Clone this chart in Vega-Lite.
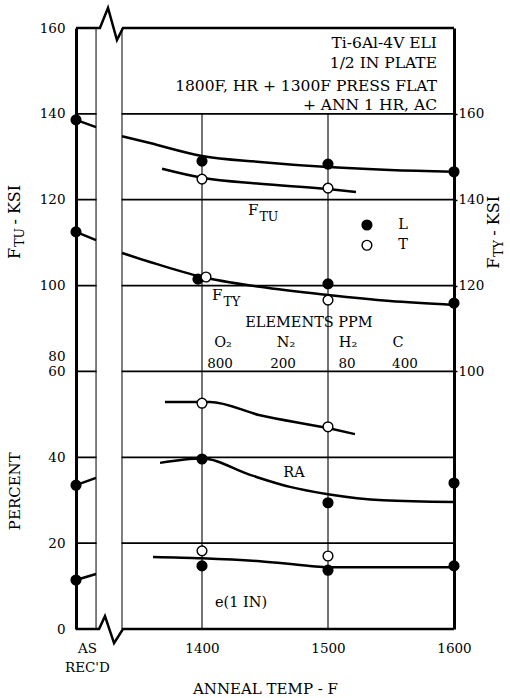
{
  "$schema": "https://vega.github.io/schema/vega-lite/v6.json",
  "width": 378,
  "height": 601,
  "autosize": {"type": "none"},
  "padding": {"left": 76, "top": 28, "right": 56, "bottom": 69},
  "background": "white",
  "config": {"view": {"stroke": null}, "font": "DejaVu Serif", "text": {"font": "DejaVu Serif", "color": "black"}},
  "datasets": {
    "grid": [{"level": 20}, {"level": 40}, {"level": 60}, {"level": 80}, {"level": 100}, {"level": 120}],
    "vlines": [{"temp": 1400, "lo": 0, "hi": 120}, {"temp": 1500, "lo": 0, "hi": 120}],
    "strip": [{"t0": 1316.3, "t1": 1336.2, "lo": 0, "hi": 140}],
    "edges": [{"temp": 1315.9}, {"temp": 1336.5}],
    "border": [
      {"seg": "top", "temp": 1300, "level": 140}, {"seg": "top", "temp": 1319.0, "level": 140}, {"seg": "top", "temp": 1325.4, "level": 144.7}, {"seg": "top", "temp": 1332.5, "level": 137.2}, {"seg": "top", "temp": 1337.3, "level": 140}, {"seg": "top", "temp": 1600, "level": 140},
      {"seg": "bottom", "temp": 1300, "level": 0}, {"seg": "bottom", "temp": 1318.3, "level": 0}, {"seg": "bottom", "temp": 1323.0, "level": 3.0}, {"seg": "bottom", "temp": 1330.2, "level": -3.3}, {"seg": "bottom", "temp": 1337.3, "level": 0}, {"seg": "bottom", "temp": 1600, "level": 0}
    ],
    "pts": [
      {"prop": "FTU", "orient": "L", "temp": 1300, "value": 138.6},
      {"prop": "FTU", "orient": "L", "temp": 1400, "value": 129.0},
      {"prop": "FTU", "orient": "L", "temp": 1500, "value": 128.3},
      {"prop": "FTU", "orient": "L", "temp": 1600, "value": 126.5},
      {"prop": "FTU", "orient": "T", "temp": 1400, "value": 124.8},
      {"prop": "FTU", "orient": "T", "temp": 1500, "value": 122.7},
      {"prop": "FTY", "orient": "L", "temp": 1300, "value": 132.5},
      {"prop": "FTY", "orient": "L", "temp": 1396.8, "value": 121.5},
      {"prop": "FTY", "orient": "L", "temp": 1500, "value": 120.4},
      {"prop": "FTY", "orient": "L", "temp": 1600, "value": 115.9},
      {"prop": "FTY", "orient": "T", "temp": 1403.2, "value": 122.0},
      {"prop": "FTY", "orient": "T", "temp": 1500, "value": 116.6},
      {"prop": "RA", "orient": "L", "temp": 1300, "value": 33.5},
      {"prop": "RA", "orient": "L", "temp": 1400, "value": 39.6},
      {"prop": "RA", "orient": "L", "temp": 1500, "value": 29.4},
      {"prop": "RA", "orient": "L", "temp": 1600, "value": 34.0},
      {"prop": "RA", "orient": "T", "temp": 1400, "value": 52.6},
      {"prop": "RA", "orient": "T", "temp": 1500, "value": 47.1},
      {"prop": "e", "orient": "L", "temp": 1300, "value": 11.4},
      {"prop": "e", "orient": "L", "temp": 1400, "value": 14.7},
      {"prop": "e", "orient": "L", "temp": 1500, "value": 13.7},
      {"prop": "e", "orient": "L", "temp": 1600, "value": 14.7},
      {"prop": "e", "orient": "T", "temp": 1400, "value": 18.2},
      {"prop": "e", "orient": "T", "temp": 1500, "value": 17.0}
    ],
    "curves": [
      {"prop": "FTU", "seg": "FTU_L0", "temp": 1300, "value": 138.6},
      {"prop": "FTU", "seg": "FTU_L0", "temp": 1315.9, "value": 136.9},
      {"prop": "FTU", "seg": "FTU_L", "temp": 1336.5, "value": 134.8},
      {"prop": "FTU", "seg": "FTU_L", "temp": 1358.7, "value": 133.2},
      {"prop": "FTU", "seg": "FTU_L", "temp": 1400, "value": 130.2},
      {"prop": "FTU", "seg": "FTU_L", "temp": 1446, "value": 128.8},
      {"prop": "FTU", "seg": "FTU_L", "temp": 1500, "value": 127.6},
      {"prop": "FTU", "seg": "FTU_L", "temp": 1549.2, "value": 126.9},
      {"prop": "FTU", "seg": "FTU_L", "temp": 1600, "value": 126.5},
      {"prop": "FTU", "seg": "FTU_T", "temp": 1368.3, "value": 127.2},
      {"prop": "FTU", "seg": "FTU_T", "temp": 1400, "value": 125.1},
      {"prop": "FTU", "seg": "FTU_T", "temp": 1446, "value": 123.7},
      {"prop": "FTU", "seg": "FTU_T", "temp": 1500, "value": 122.5},
      {"prop": "FTU", "seg": "FTU_T", "temp": 1522.2, "value": 121.8},
      {"prop": "FTY", "seg": "FTY_L0", "temp": 1300, "value": 132.5},
      {"prop": "FTY", "seg": "FTY_L0", "temp": 1315.9, "value": 130.6},
      {"prop": "FTY", "seg": "FTY_L", "temp": 1336.5, "value": 127.6},
      {"prop": "FTY", "seg": "FTY_L", "temp": 1358.7, "value": 125.5},
      {"prop": "FTY", "seg": "FTY_L", "temp": 1400, "value": 122.0},
      {"prop": "FTY", "seg": "FTY_L", "temp": 1446, "value": 119.7},
      {"prop": "FTY", "seg": "FTY_L", "temp": 1500, "value": 117.8},
      {"prop": "FTY", "seg": "FTY_L", "temp": 1549.2, "value": 116.4},
      {"prop": "FTY", "seg": "FTY_L", "temp": 1600, "value": 115.5},
      {"prop": "RA", "seg": "RA_L0", "temp": 1300, "value": 33.5},
      {"prop": "RA", "seg": "RA_L0", "temp": 1315.9, "value": 35.2},
      {"prop": "RA", "seg": "RA_L", "temp": 1366.7, "value": 38.7},
      {"prop": "RA", "seg": "RA_L", "temp": 1400, "value": 39.7},
      {"prop": "RA", "seg": "RA_L", "temp": 1438.1, "value": 35.9},
      {"prop": "RA", "seg": "RA_L", "temp": 1469.8, "value": 33.1},
      {"prop": "RA", "seg": "RA_L", "temp": 1500, "value": 31.4},
      {"prop": "RA", "seg": "RA_L", "temp": 1543.7, "value": 30.0},
      {"prop": "RA", "seg": "RA_L", "temp": 1600, "value": 29.6},
      {"prop": "RA", "seg": "RA_T", "temp": 1370.6, "value": 52.9},
      {"prop": "RA", "seg": "RA_T", "temp": 1406.3, "value": 52.9},
      {"prop": "RA", "seg": "RA_T", "temp": 1446, "value": 49.8},
      {"prop": "RA", "seg": "RA_T", "temp": 1500, "value": 46.8},
      {"prop": "RA", "seg": "RA_T", "temp": 1521.4, "value": 45.4},
      {"prop": "e", "seg": "e_L0", "temp": 1300, "value": 11.4},
      {"prop": "e", "seg": "e_L0", "temp": 1315.9, "value": 12.8},
      {"prop": "e", "seg": "e_L", "temp": 1361.1, "value": 16.8},
      {"prop": "e", "seg": "e_L", "temp": 1400, "value": 16.5},
      {"prop": "e", "seg": "e_L", "temp": 1446, "value": 15.8},
      {"prop": "e", "seg": "e_L", "temp": 1485.7, "value": 14.7},
      {"prop": "e", "seg": "e_L", "temp": 1500, "value": 14.4},
      {"prop": "e", "seg": "e_L", "temp": 1600, "value": 14.4}
    ],
    "legsym": [{"orient": "L", "temp": 1530.9, "level": 94.1}, {"orient": "T", "temp": 1530.9, "level": 89.4}],
    "ann": [
      {"grp": "block", "text": "Ti-6Al-4V ELI", "temp": 1586.5, "level": 135.3},
      {"grp": "block", "text": "1/2 IN PLATE", "temp": 1586.5, "level": 130.7},
      {"grp": "block", "text": "1800F, HR + 1300F PRESS FLAT", "temp": 1586.5, "level": 125.3},
      {"grp": "block", "text": "+ ANN 1 HR, AC", "temp": 1586.5, "level": 120.9},
      {"grp": "center", "text": "ELEMENTS PPM", "temp": 1484.9, "level": 70.3},
      {"grp": "center", "text": "O₂", "temp": 1416.7, "level": 65.7},
      {"grp": "center", "text": "N₂", "temp": 1466.7, "level": 65.7},
      {"grp": "center", "text": "H₂", "temp": 1515.9, "level": 65.7},
      {"grp": "center", "text": "C", "temp": 1555.6, "level": 65.7},
      {"grp": "center", "text": "RA", "temp": 1473.0, "level": 35.4},
      {"grp": "center", "text": "e(1 IN)", "temp": 1431.0, "level": 5.1},
      {"grp": "num", "text": "800", "temp": 1414.3, "level": 60.8},
      {"grp": "num", "text": "200", "temp": 1464.3, "level": 60.8},
      {"grp": "num", "text": "80", "temp": 1515.1, "level": 60.8},
      {"grp": "num", "text": "400", "temp": 1561.1, "level": 60.8},
      {"grp": "F", "text": "F", "temp": 1444.8, "level": 96.4},
      {"grp": "F", "text": "F", "temp": 1416.3, "level": 76.6},
      {"grp": "sub", "text": "TU", "temp": 1444.8, "level": 96.4},
      {"grp": "sub", "text": "TY", "temp": 1416.3, "level": 76.6},
      {"grp": "leg", "text": "L", "temp": 1559.5, "level": 94.1},
      {"grp": "leg", "text": "T", "temp": 1559.5, "level": 89.4},
      {"grp": "vF", "text": "F", "temp": 1251.6, "level": 88.8},
      {"grp": "vF", "text": "F", "temp": 1631.7, "level": 86.5},
      {"grp": "vsub", "text": "TU", "temp": 1251.6, "level": 88.8},
      {"grp": "vsub", "text": "TY", "temp": 1631.7, "level": 86.5},
      {"grp": "vrest", "text": "- KSI", "temp": 1251.6, "level": 94.2},
      {"grp": "vrest", "text": "- KSI", "temp": 1631.7, "level": 91.6},
      {"grp": "vcenter", "text": "PERCENT", "temp": 1251.6, "level": 32.1}
    ]
  },
  "resolve": {"scale": {"y": "independent"}},
  "layer": [
    {
      "layer": [
        {
          "data": {"name": "grid"},
          "mark": {"type": "rule", "color": "black", "strokeWidth": 1.8},
          "encoding": {
            "y": {"field": "level", "type": "quantitative", "scale": {"domain": [0, 140], "nice": false, "zero": false},
              "axis": {"orient": "left", "values": [0, 20, 40, 60, 63.4, 80, 100, 120, 140], "format": "d",
                "labelExpr": "(datum.value > 61 && datum.value < 70) ? '80' : (datum.value >= 80 ? format(datum.value + 20, 'd') : datum.label)",
                "title": null, "grid": false, "ticks": false, "domain": true, "domainWidth": 3, "domainColor": "black",
                "labelPadding": 11, "labelFont": "DejaVu Serif", "labelFontSize": 13.5, "labelColor": "black",
                "labelBound": false, "labelOverlap": false, "labelFlush": false}}
          }
        },
        {
          "data": {"name": "vlines"},
          "mark": {"type": "rule", "color": "black", "strokeWidth": 1.1},
          "encoding": {
            "x": {"field": "temp", "type": "quantitative", "scale": {"domain": [1300, 1600], "nice": false, "zero": false},
              "axis": {"orient": "bottom", "values": [1308.7, 1400, 1500, 1600], "format": "d",
                "labelExpr": "datum.value < 1350 ? ['AS', \"REC'D\"] : datum.label",
                "title": "ANNEAL TEMP - F", "grid": false, "ticks": false, "domain": false,
                "labelPadding": 12, "labelBaseline": "top", "labelLineHeight": 19, "labelFlush": false, "labelOverlap": false, "labelBound": false,
                "labelFont": "DejaVu Serif", "labelFontSize": 13.5, "labelColor": "black",
                "titleFont": "DejaVu Serif", "titleFontSize": 15, "titleFontWeight": "normal", "titleColor": "black", "titlePadding": 8}},
            "y": {"field": "lo", "type": "quantitative", "scale": {"domain": [0, 140], "nice": false, "zero": false}},
            "y2": {"field": "hi"}
          }
        },
        {
          "data": {"name": "curves"},
          "transform": [{"filter": "datum.prop == 'RA' || datum.prop == 'e'"}],
          "mark": {"type": "line", "interpolate": "monotone", "color": "black", "strokeWidth": 2.5},
          "encoding": {
            "x": {"field": "temp", "type": "quantitative", "scale": {"domain": [1300, 1600], "nice": false, "zero": false}},
            "y": {"field": "value", "type": "quantitative", "scale": {"domain": [0, 140], "nice": false, "zero": false}},
            "detail": {"field": "seg"}
          }
        },
        {
          "data": {"name": "pts"},
          "transform": [{"filter": "datum.prop == 'RA' || datum.prop == 'e'"}],
          "mark": {"type": "point", "shape": "circle", "filled": true, "size": 95, "stroke": "black", "strokeWidth": 1.4, "opacity": 1},
          "encoding": {
            "x": {"field": "temp", "type": "quantitative", "scale": {"domain": [1300, 1600], "nice": false, "zero": false}},
            "y": {"field": "value", "type": "quantitative", "scale": {"domain": [0, 140], "nice": false, "zero": false}},
            "fill": {"field": "orient", "type": "nominal", "scale": {"domain": ["L", "T"], "range": ["black", "white"]}, "legend": null}
          }
        },
        {
          "data": {"name": "legsym"},
          "mark": {"type": "point", "shape": "circle", "filled": true, "size": 95, "stroke": "black", "strokeWidth": 1.4, "opacity": 1},
          "encoding": {
            "x": {"field": "temp", "type": "quantitative", "scale": {"domain": [1300, 1600], "nice": false, "zero": false}},
            "y": {"field": "level", "type": "quantitative", "scale": {"domain": [0, 140], "nice": false, "zero": false}},
            "fill": {"field": "orient", "type": "nominal", "scale": {"domain": ["L", "T"], "range": ["black", "white"]}, "legend": null}
          }
        },
        {
          "data": {"name": "strip"},
          "mark": {"type": "rect", "color": "white"},
          "encoding": {
            "x": {"field": "t0", "type": "quantitative", "scale": {"domain": [1300, 1600], "nice": false, "zero": false}},
            "x2": {"field": "t1"},
            "y": {"field": "lo", "type": "quantitative", "scale": {"domain": [0, 140], "nice": false, "zero": false}},
            "y2": {"field": "hi"}
          }
        },
        {
          "data": {"name": "edges"},
          "mark": {"type": "rule", "color": "black", "strokeWidth": 1},
          "encoding": {
            "x": {"field": "temp", "type": "quantitative", "scale": {"domain": [1300, 1600], "nice": false, "zero": false}}
          }
        },
        {
          "data": {"name": "border"},
          "mark": {"type": "line", "color": "black", "strokeWidth": 2.5},
          "encoding": {
            "x": {"field": "temp", "type": "quantitative", "scale": {"domain": [1300, 1600], "nice": false, "zero": false}},
            "y": {"field": "level", "type": "quantitative", "scale": {"domain": [0, 140], "nice": false, "zero": false}},
            "detail": {"field": "seg"}
          }
        },
        {
          "data": {"name": "ann"},
          "transform": [{"filter": "datum.grp == 'block'"}],
          "mark": {"type": "text", "align": "right", "baseline": "alphabetic", "fontSize": 15.5, "font": "DejaVu Serif", "color": "black"},
          "encoding": {
            "x": {"field": "temp", "type": "quantitative", "scale": {"domain": [1300, 1600], "nice": false, "zero": false}},
            "y": {"field": "level", "type": "quantitative", "scale": {"domain": [0, 140], "nice": false, "zero": false}},
            "text": {"field": "text"}
          }
        },
        {
          "data": {"name": "ann"},
          "transform": [{"filter": "datum.grp == 'center'"}],
          "mark": {"type": "text", "align": "center", "baseline": "alphabetic", "fontSize": 14.5, "font": "DejaVu Serif", "color": "black"},
          "encoding": {
            "x": {"field": "temp", "type": "quantitative", "scale": {"domain": [1300, 1600], "nice": false, "zero": false}},
            "y": {"field": "level", "type": "quantitative", "scale": {"domain": [0, 140], "nice": false, "zero": false}},
            "text": {"field": "text"}
          }
        },
        {
          "data": {"name": "ann"},
          "transform": [{"filter": "datum.grp == 'num'"}],
          "mark": {"type": "text", "align": "center", "baseline": "alphabetic", "fontSize": 13.5, "font": "DejaVu Serif", "color": "black"},
          "encoding": {
            "x": {"field": "temp", "type": "quantitative", "scale": {"domain": [1300, 1600], "nice": false, "zero": false}},
            "y": {"field": "level", "type": "quantitative", "scale": {"domain": [0, 140], "nice": false, "zero": false}},
            "text": {"field": "text"}
          }
        },
        {
          "data": {"name": "ann"},
          "transform": [{"filter": "datum.grp == 'F'"}],
          "mark": {"type": "text", "align": "right", "baseline": "alphabetic", "fontSize": 15, "font": "DejaVu Serif", "color": "black"},
          "encoding": {
            "x": {"field": "temp", "type": "quantitative", "scale": {"domain": [1300, 1600], "nice": false, "zero": false}},
            "y": {"field": "level", "type": "quantitative", "scale": {"domain": [0, 140], "nice": false, "zero": false}},
            "text": {"field": "text"}
          }
        },
        {
          "data": {"name": "ann"},
          "transform": [{"filter": "datum.grp == 'sub'"}],
          "mark": {"type": "text", "align": "left", "baseline": "alphabetic", "fontSize": 12.5, "dx": 1, "dy": 6, "font": "DejaVu Serif", "color": "black"},
          "encoding": {
            "x": {"field": "temp", "type": "quantitative", "scale": {"domain": [1300, 1600], "nice": false, "zero": false}},
            "y": {"field": "level", "type": "quantitative", "scale": {"domain": [0, 140], "nice": false, "zero": false}},
            "text": {"field": "text"}
          }
        },
        {
          "data": {"name": "ann"},
          "transform": [{"filter": "datum.grp == 'leg'"}],
          "mark": {"type": "text", "align": "center", "baseline": "middle", "fontSize": 14.5, "font": "DejaVu Serif", "color": "black"},
          "encoding": {
            "x": {"field": "temp", "type": "quantitative", "scale": {"domain": [1300, 1600], "nice": false, "zero": false}},
            "y": {"field": "level", "type": "quantitative", "scale": {"domain": [0, 140], "nice": false, "zero": false}},
            "text": {"field": "text"}
          }
        },
        {
          "data": {"name": "ann"},
          "transform": [{"filter": "datum.grp == 'vF'"}],
          "mark": {"type": "text", "align": "right", "baseline": "middle", "angle": 270, "fontSize": 16, "font": "DejaVu Serif", "color": "black"},
          "encoding": {
            "x": {"field": "temp", "type": "quantitative", "scale": {"domain": [1300, 1600], "nice": false, "zero": false}},
            "y": {"field": "level", "type": "quantitative", "scale": {"domain": [0, 140], "nice": false, "zero": false}},
            "text": {"field": "text"}
          }
        },
        {
          "data": {"name": "ann"},
          "transform": [{"filter": "datum.grp == 'vsub'"}],
          "mark": {"type": "text", "align": "left", "baseline": "middle", "angle": 270, "dx": 1, "dy": 5, "fontSize": 12.5, "font": "DejaVu Serif", "color": "black"},
          "encoding": {
            "x": {"field": "temp", "type": "quantitative", "scale": {"domain": [1300, 1600], "nice": false, "zero": false}},
            "y": {"field": "level", "type": "quantitative", "scale": {"domain": [0, 140], "nice": false, "zero": false}},
            "text": {"field": "text"}
          }
        },
        {
          "data": {"name": "ann"},
          "transform": [{"filter": "datum.grp == 'vrest'"}],
          "mark": {"type": "text", "align": "left", "baseline": "middle", "angle": 270, "fontSize": 16, "font": "DejaVu Serif", "color": "black"},
          "encoding": {
            "x": {"field": "temp", "type": "quantitative", "scale": {"domain": [1300, 1600], "nice": false, "zero": false}},
            "y": {"field": "level", "type": "quantitative", "scale": {"domain": [0, 140], "nice": false, "zero": false}},
            "text": {"field": "text"}
          }
        },
        {
          "data": {"name": "ann"},
          "transform": [{"filter": "datum.grp == 'vcenter'"}],
          "mark": {"type": "text", "align": "center", "baseline": "middle", "angle": 270, "fontSize": 15, "font": "DejaVu Serif", "color": "black"},
          "encoding": {
            "x": {"field": "temp", "type": "quantitative", "scale": {"domain": [1300, 1600], "nice": false, "zero": false}},
            "y": {"field": "level", "type": "quantitative", "scale": {"domain": [0, 140], "nice": false, "zero": false}},
            "text": {"field": "text"}
          }
        }
      ]
    },
    {
      "layer": [
        {
          "data": {"name": "curves"},
          "transform": [{"filter": "datum.prop == 'FTU'"}],
          "mark": {"type": "line", "interpolate": "monotone", "color": "black", "strokeWidth": 2.5},
          "encoding": {
            "x": {"field": "temp", "type": "quantitative", "scale": {"domain": [1300, 1600], "nice": false, "zero": false}},
            "y": {"field": "value", "type": "quantitative", "scale": {"domain": [20, 160], "nice": false, "zero": false}, "axis": null},
            "detail": {"field": "seg"}
          }
        },
        {
          "data": {"name": "pts"},
          "transform": [{"filter": "datum.prop == 'FTU'"}],
          "mark": {"type": "point", "shape": "circle", "filled": true, "size": 95, "stroke": "black", "strokeWidth": 1.4, "opacity": 1},
          "encoding": {
            "x": {"field": "temp", "type": "quantitative", "scale": {"domain": [1300, 1600], "nice": false, "zero": false}},
            "y": {"field": "value", "type": "quantitative", "scale": {"domain": [20, 160], "nice": false, "zero": false}, "axis": null},
            "fill": {"field": "orient", "type": "nominal", "scale": {"domain": ["L", "T"], "range": ["black", "white"]}, "legend": null}
          }
        }
      ]
    },
    {
      "layer": [
        {
          "data": {"name": "curves"},
          "transform": [{"filter": "datum.prop == 'FTY'"}],
          "mark": {"type": "line", "interpolate": "monotone", "color": "black", "strokeWidth": 2.5},
          "encoding": {
            "x": {"field": "temp", "type": "quantitative", "scale": {"domain": [1300, 1600], "nice": false, "zero": false}},
            "y": {"field": "value", "type": "quantitative", "scale": {"domain": [40, 180], "nice": false, "zero": false},
              "axis": {"orient": "right", "values": [100, 120, 140, 160], "format": "d", "title": null, "grid": false,
                "ticks": true, "tickSize": 3, "tickWidth": 1.5, "tickColor": "black", "domain": true, "domainWidth": 3, "domainColor": "black",
                "labelPadding": 1, "labelFont": "DejaVu Serif", "labelFontSize": 13.5, "labelColor": "black", "labelBound": false, "labelFlush": false, "labelOverlap": false}},
            "detail": {"field": "seg"}
          }
        },
        {
          "data": {"name": "pts"},
          "transform": [{"filter": "datum.prop == 'FTY'"}],
          "mark": {"type": "point", "shape": "circle", "filled": true, "size": 95, "stroke": "black", "strokeWidth": 1.4, "opacity": 1},
          "encoding": {
            "x": {"field": "temp", "type": "quantitative", "scale": {"domain": [1300, 1600], "nice": false, "zero": false}},
            "y": {"field": "value", "type": "quantitative", "scale": {"domain": [40, 180], "nice": false, "zero": false}},
            "fill": {"field": "orient", "type": "nominal", "scale": {"domain": ["L", "T"], "range": ["black", "white"]}, "legend": null}
          }
        }
      ]
    }
  ]
}
